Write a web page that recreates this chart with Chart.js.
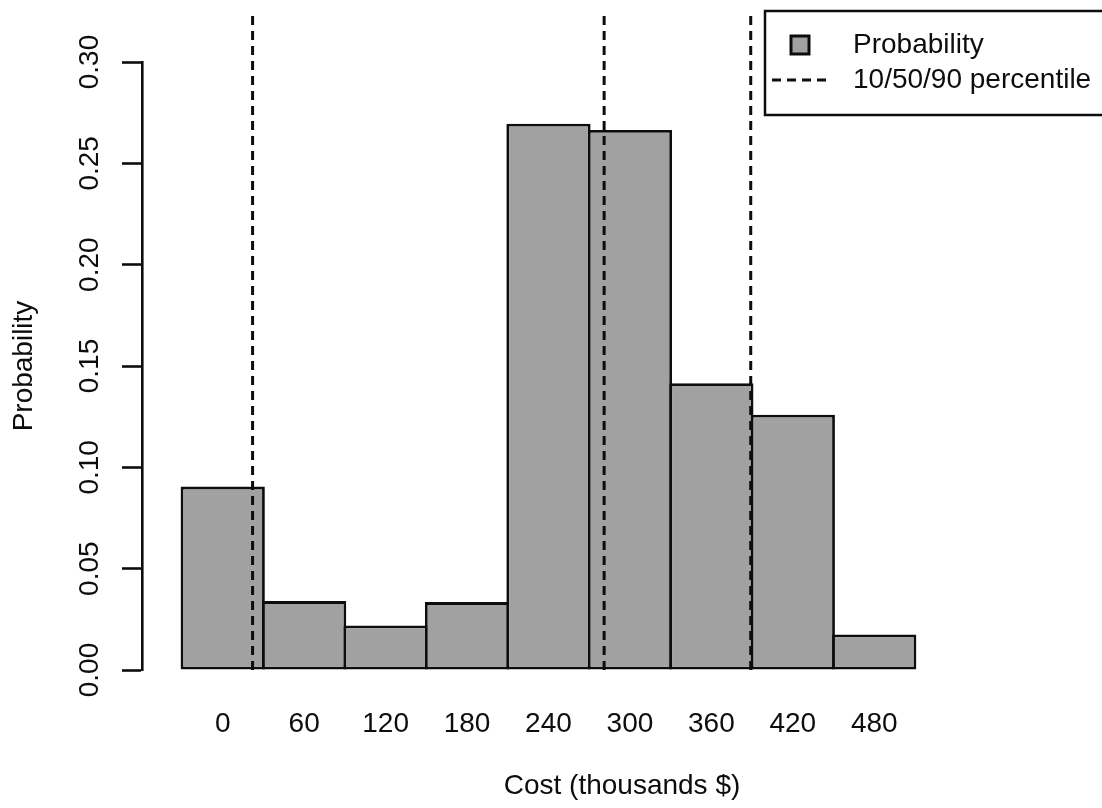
<!DOCTYPE html>
<html>
<head>
<meta charset="utf-8">
<script src="https://cdn.jsdelivr.net/npm/chart.js@4.4.1/dist/chart.umd.min.js"></script>
<style>
  html, body { margin: 0; padding: 0; background: #ffffff; }
  #wrap { position: relative; width: 1102px; height: 808px; }
</style>
</head>
<body>
<div id="wrap"><canvas id="chart" width="1102" height="808"></canvas></div>
<script>
// Cost bins (thousands $), one bar per bin
const costLabels = ['0', '60', '120', '180', '240', '300', '360', '420', '480'];
const binWidth = 60;
// Probability of each cost bin
const probability = [0.0905, 0.034, 0.022, 0.0335, 0.2695, 0.2665, 0.1415, 0.126, 0.0175];
// 10th, 50th and 90th percentile of cost (thousands $)
const percentileCosts = [22, 281, 389];
// Probability axis ticks
const probabilityTicks = [0, 0.05, 0.10, 0.15, 0.20, 0.25, 0.30];

const FONT = "'Liberation Sans', Arial, Helvetica, sans-serif";
const INK = '#0d0d0d';
const BAR_FILL = '#a1a1a1';

// Bars sit on a linear index axis: bin i covers [i, i+1]
const barPoints = probability.map((p, i) => ({ x: i + 0.5, y: p }));
const binCenter = c => c / binWidth + 0.5;
const lineTop = 0.325;

const percentileSets = percentileCosts.map((c, k) => ({
  type: 'line',
  label: k === 0 ? '10/50/90 percentile' : '',
  data: [{ x: binCenter(c), y: 0 }, { x: binCenter(c), y: lineTop }],
  borderColor: INK,
  borderWidth: 3,
  borderDash: [9, 6],
  pointRadius: 0,
  fill: false,
  clip: false,
  order: 0
}));

// Framed legend in the top-right corner
const boxLegend = {
  id: 'boxLegend',
  afterDraw(chart, args, o) {
    const ctx = chart.ctx;
    const bars = chart.data.datasets[0];
    const lines = chart.data.datasets[1];
    ctx.save();
    ctx.strokeStyle = INK;
    ctx.lineWidth = 2.5;
    ctx.strokeRect(o.left, o.top, o.width, o.height);

    // filled square for the bars
    const s = 18;
    ctx.fillStyle = bars.backgroundColor;
    ctx.fillRect(o.symbolX - s / 2, o.row1 - s / 2, s, s);
    ctx.lineWidth = 3;
    ctx.strokeRect(o.symbolX - s / 2, o.row1 - s / 2, s, s);

    // dashed sample for the percentile lines
    ctx.setLineDash(lines.borderDash);
    ctx.lineWidth = lines.borderWidth;
    ctx.beginPath();
    ctx.moveTo(o.symbolX - 28, o.row2);
    ctx.lineTo(o.symbolX + 28, o.row2);
    ctx.stroke();
    ctx.setLineDash([]);

    ctx.fillStyle = INK;
    ctx.font = '28px ' + FONT;
    ctx.textBaseline = 'middle';
    ctx.textAlign = 'left';
    ctx.fillText(bars.label, o.textX, o.row1);
    ctx.fillText(lines.label, o.textX, o.row2);
    ctx.restore();
  }
};

const pxPerBin = 81.44;
const xMin = -40 / pxPerBin;
const xMax = xMin + 960 / pxPerBin;
const barEdge = 2.8;

new Chart(document.getElementById('chart'), {
  type: 'bar',
  data: {
    datasets: [
      {
        type: 'bar',
        label: 'Probability',
        data: barPoints,
        backgroundColor: BAR_FILL,
        borderColor: INK,
        borderWidth: barEdge,
        borderSkipped: false,
        // widen by one stroke so neighbouring outlines share a single edge
        barPercentage: (pxPerBin + barEdge) / pxPerBin,
        categoryPercentage: 1,
        order: 1
      },
      ...percentileSets
    ]
  },
  options: {
    responsive: false,
    animation: false,
    events: [],
    layout: { padding: { top: 62, left: 0, right: 0, bottom: 0 } },
    plugins: {
      legend: { display: false },
      tooltip: { enabled: false },
      boxLegend: {
        left: 765, top: 11, width: 360, height: 104,
        symbolX: 800, textX: 853, row1: 45, row2: 80
      }
    },
    scales: {
      x: {
        type: 'linear',
        position: 'bottom',
        bounds: 'data',
        offset: false,
        min: xMin,
        max: xMax,
        afterDataLimits: s => { s.min = xMin; s.max = xMax; },
        afterBuildTicks: s => {
          s.ticks = costLabels.map((l, i) => ({ value: i + 0.5 }));
          s.min = xMin; s.max = xMax;
        },
        afterFit: s => { s.height = 138; },
        ticks: {
          autoSkip: false,
          maxRotation: 0,
          padding: 37,
          color: INK,
          font: { family: FONT, size: 28 },
          callback: (v, i) => costLabels[i]
        },
        grid: { display: false, drawTicks: false },
        border: { display: false },
        title: {
          display: true,
          text: 'Cost (thousands $)',
          color: INK,
          font: { family: FONT, size: 28 },
          padding: { top: 0, bottom: 5 }
        }
      },
      y: {
        type: 'linear',
        position: 'left',
        min: 0,
        max: 0.30,
        afterBuildTicks: s => { s.ticks = probabilityTicks.map(v => ({ value: v })); },
        afterFit: s => { s.width = 142; },
        ticks: {
          minRotation: 90,
          maxRotation: 90,
          crossAlign: 'center',
          padding: 4,
          color: INK,
          font: { family: FONT, size: 28 },
          callback: v => v.toFixed(2)
        },
        grid: {
          drawOnChartArea: false,
          drawTicks: true,
          tickLength: 20,
          tickWidth: 2.6,
          tickColor: INK
        },
        border: { display: true, color: INK, width: 2.6 },
        title: {
          display: true,
          text: 'Probability',
          color: INK,
          font: { family: FONT, size: 28 },
          padding: { top: 7, bottom: 0 }
        }
      }
    }
  },
  plugins: [boxLegend]
});
</script>
</body>
</html>
